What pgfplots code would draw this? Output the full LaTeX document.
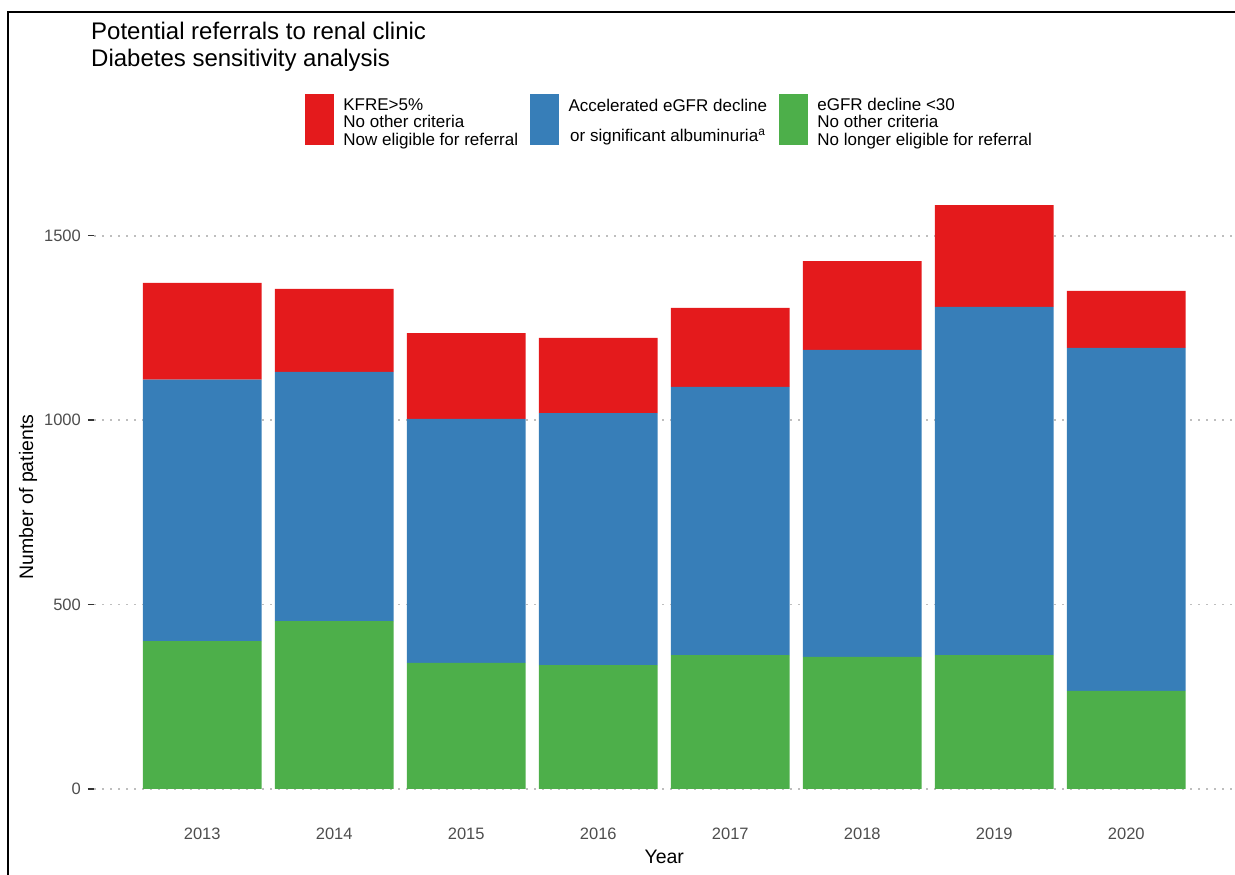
\documentclass[border=0pt]{standalone}
\usepackage{fontspec}
\setmainfont{Liberation Sans}
\usepackage{pgfplots}
\pgfplotsset{compat=1.18}
\definecolor{cRed}{HTML}{E41A1C}
\definecolor{cBlue}{HTML}{377EB8}
\definecolor{cGreen}{HTML}{4DAF4A}
\definecolor{tickgray}{HTML}{4D4D4D}
\definecolor{tickmark}{HTML}{333333}
\definecolor{gridgray}{HTML}{BEBEBE}
\begin{document}
\begin{tikzpicture}[x=1pt,y=1pt]
\useasboundingbox (0,0) rectangle (1235,875);
\draw[line width=1.8pt] (8.3,-5) -- (8.3,863.3) -- (1245,863.3);
\node[anchor=base west, inner sep=0pt, font=\fontsize{24}{27.4}\selectfont] at (91,835.7) {Potential referrals to renal clinic};
\node[anchor=base west, inner sep=0pt, font=\fontsize{24}{27.4}\selectfont] at (91,808.3) {Diabetes sensitivity analysis};
\begin{axis}[
  at={(94pt,56.9pt)}, anchor=south west,
  scale only axis, width=1140.5pt, height=642.2pt,
  xmin=0.18, xmax=8.82, ymin=-79, ymax=1662,
  ybar stacked, bar width=0.9,
  axis line style={draw=none},
  xtick={1,2,3,4,5,6,7,8},
  xticklabels={2013,2014,2015,2016,2017,2018,2019,2020},
  ytick={0,500,1000,1500},
  yticklabels={0,500,1000,1500},
  x tick style={draw=none},
  y tick style={draw=tickmark, line width=1.3pt},
  tick align=outside, major tick length=6pt,
  xticklabel style={font=\fontsize{16.5}{18}\selectfont, text=tickgray, anchor=north, inner sep=0pt, yshift=-3.5pt},
  yticklabel style={font=\fontsize{16.5}{18}\selectfont, text=tickgray, anchor=east, inner sep=0pt, xshift=-7pt},
  ymajorgrids,
  major grid style={draw=gridgray, line width=1.8pt, dash pattern=on 1.8pt off 6.2pt},
  xlabel={Year}, ylabel={Number of patients},
  xlabel style={at={(axis description cs:0.5,0)}, anchor=north, inner sep=0pt, yshift=-32pt, font=\fontsize{19.5}{21}\selectfont},
  ylabel style={at={(axis description cs:0,0.5)}, anchor=center, inner sep=0pt, yshift=66pt, font=\fontsize{19.5}{21}\selectfont},
  legend columns=3,
  legend cell align=left,
  legend style={at={(axis description cs:0.185,1)}, anchor=west, yshift=57pt,
    draw=none, fill=none, inner sep=0pt, outer sep=0pt,
    font=\fontsize{17}{17.5}\selectfont,
    nodes={inner sep=0pt},
    /tikz/every odd column/.append style={column sep=10pt},
    /tikz/every even column/.append style={column sep=12pt}},
]
\addlegendimage{legend image code/.code={\fill[cRed] (0pt,-25pt) rectangle (28pt,25pt);}}
\addlegendentry{\raisebox{9.5pt}{\begin{tabular}{@{}l@{}}KFRE>5\%\\No other criteria\\Now eligible for referral\end{tabular}}}
\addlegendimage{legend image code/.code={\fill[cBlue] (0pt,-25pt) rectangle (28pt,25pt);}}
\addlegendentry{\raisebox{9.5pt}{\begin{tabular}{@{}c@{}}Accelerated eGFR decline\\[12.5pt]or significant albuminuria\textsuperscript{a}\end{tabular}}}
\addlegendimage{legend image code/.code={\fill[cGreen] (0pt,-25pt) rectangle (28pt,25pt);}}
\addlegendentry{\raisebox{9.5pt}{\begin{tabular}{@{}l@{}}eGFR decline <30\\No other criteria\\No longer eligible for referral\end{tabular}}}
\addplot[fill=cGreen, draw=none, forget plot] coordinates {(1,401) (2,455) (3,342) (4,336) (5,363) (6,358) (7,363) (8,266)};
\addplot[fill=cBlue, draw=none, forget plot] coordinates {(1,709) (2,676) (3,661) (4,683) (5,727) (6,832) (7,944) (8,930)};
\addplot[fill=cRed, draw=none, forget plot] coordinates {(1,262) (2,225) (3,233) (4,204) (5,214) (6,241) (7,276) (8,154)};
\end{axis}
\end{tikzpicture}
\end{document}
